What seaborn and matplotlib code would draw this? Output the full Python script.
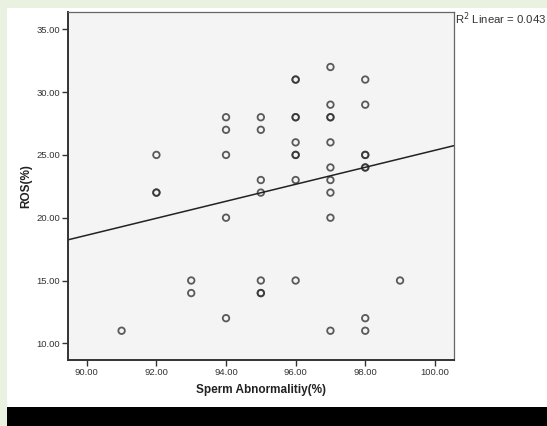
import matplotlib
matplotlib.use("Agg")
import matplotlib.pyplot as plt
import seaborn as sns
import pandas as pd
from matplotlib.patches import Rectangle

sns.set_style("white")
plt.rcParams['font.family'] = ['Liberation Sans', 'DejaVu Sans']

sperm_abnormality = [91,
                     92, 92, 92,
                     93, 93,
                     94, 94, 94, 94, 94,
                     95, 95, 95, 95, 95, 95, 95,
                     96, 96, 96, 96, 96, 96, 96, 96, 96,
                     97, 97, 97, 97, 97, 97, 97, 97, 97, 97,
                     98, 98, 98, 98, 98, 98, 98, 98,
                     99]
ros = [11,
       25, 22, 22,
       15, 14,
       28, 27, 25, 20, 12,
       28, 27, 23, 22, 15, 14, 14,
       31, 31, 28, 28, 26, 25, 25, 23, 15,
       32, 29, 28, 28, 26, 24, 23, 22, 20, 11,
       31, 29, 25, 25, 24, 24, 12, 11,
       15]
x_ticks = [90, 92, 94, 96, 98, 100]
y_ticks = [10, 15, 20, 25, 30, 35]
r2_label = "R$^2$ Linear = 0.043"

df = pd.DataFrame({"Sperm Abnormalitiy(%)": sperm_abnormality, "ROS(%)": ros})

W, H = 547, 426
fig = plt.figure(figsize=(W / 100, H / 100), dpi=100)
fig.patch.set_facecolor("#e9f1e1")
fig.add_artist(Rectangle((7 / W, 0), 1, (H - 8) / H, transform=fig.transFigure,
                         facecolor="white", edgecolor="none", zorder=0))
fig.add_artist(Rectangle((7 / W, 0), 1, 19 / H, transform=fig.transFigure,
                         facecolor="black", edgecolor="none", zorder=0))

ax = fig.add_axes([68 / W, (H - 360) / H, (454 - 68) / W, (360 - 12) / H])
ax.set_facecolor("#f4f4f4")
ax.set_xlim(89.46, 100.55)
ax.set_ylim(8.67, 36.38)

sns.regplot(data=df, x="Sperm Abnormalitiy(%)", y="ROS(%)", ax=ax, ci=None,
            truncate=False,
            scatter_kws=dict(s=22, facecolors="none", edgecolors="#333333",
                             linewidths=1.3),
            line_kws=dict(color="#222222", lw=1.1))
ax.set_xlim(89.46, 100.55)
ax.set_ylim(8.67, 36.38)

ax.set_xticks(x_ticks)
ax.set_yticks(y_ticks)
ax.set_xticklabels([f"{v:.2f}" for v in x_ticks])
ax.set_yticklabels([f"{v:.2f}" for v in y_ticks])
ax.tick_params(axis="both", direction="out", length=4, width=1, color="#333333",
               labelsize=6.8, labelcolor="#333333", pad=1.5,
               left=True, bottom=True)
for s in ax.spines.values():
    s.set_color("#666666")
    s.set_linewidth(0.9)
ax.spines["left"].set_color("#333333")
ax.spines["bottom"].set_color("#333333")
ax.spines["left"].set_linewidth(1.4)
ax.spines["bottom"].set_linewidth(1.4)

ax.set_xlabel("Sperm Abnormalitiy(%)", fontsize=8.5, fontweight="bold",
              color="#222222", labelpad=5)
ax.set_ylabel("ROS(%)", fontsize=8.5, fontweight="bold", color="#222222",
              labelpad=3)

fig.text(455 / W, 1 - 19 / H, r2_label, fontsize=8.2, color="#333333",
         ha="left", va="center")

fig.savefig("out.png", dpi=100)
